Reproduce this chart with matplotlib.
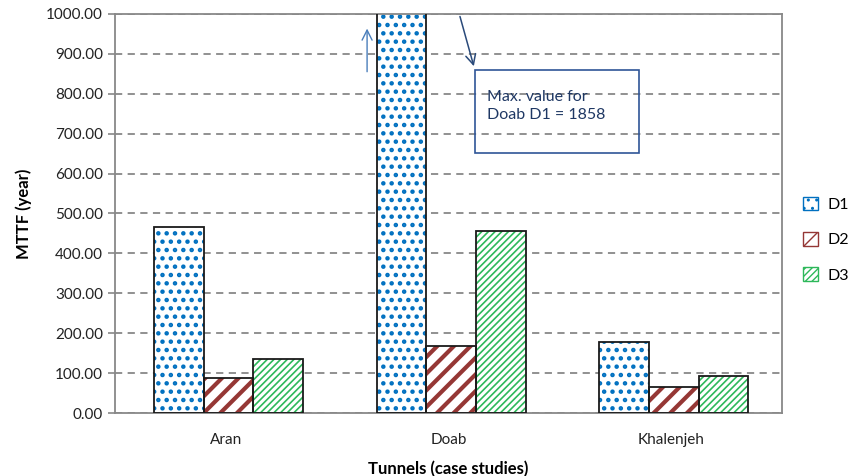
import numpy as np
import matplotlib.pyplot as plt
from matplotlib.patches import Patch

plt.rcParams['font.family'] = ['Lato', 'DejaVu Sans']

tunnels = ['Aran', 'Doab', 'Khalenjeh']
series = ['D1', 'D2', 'D3']
d1 = [466, 1858, 178]
d2 = [88, 168, 65]
d3 = [135, 456, 93]
yticks = np.arange(0, 1001, 100)

# fill pattern, pattern colour, pattern line width per series
styles = {
    'D1': ('..', '#0070C0', 2.0),
    'D2': ('//', '#953735', 3.0),
    'D3': ('/////', '#2DB85A', 1.2),
}

fig = plt.figure(figsize=(8.56, 4.76), dpi=100)
ax = fig.add_axes([0.134, 0.132, 0.780, 0.839])

x = np.arange(len(tunnels))
w = 0.223
for i, (name, vals) in enumerate(zip(series, [d1, d2, d3])):
    hatch, hc, hlw = styles[name]
    pos = x + (i - 1) * w + 0.012
    bars = ax.bar(pos, vals, w, color='white', edgecolor=hc, hatch=hatch, linewidth=0, zorder=2)
    for b in bars:
        if hasattr(b, 'set_hatch_linewidth'):
            b.set_hatch_linewidth(hlw)
    ax.bar(pos, vals, w, color='none', edgecolor='#1a1a1a', linewidth=1.3, zorder=3)

ax.set_ylim(0, 1000)
ax.set_xlim(-0.5, 2.5)
ax.set_yticks(yticks)
ax.set_yticklabels([f'{v:.2f}' for v in yticks])
ax.set_xticks(x)
ax.set_xticklabels(tunnels)
ax.tick_params(axis='both', labelsize=11, colors='#222222')
ax.tick_params(axis='y', color='#888888', length=5, width=1.2)
ax.tick_params(axis='x', length=0, pad=14)
ax.yaxis.grid(True, linestyle=(0, (4, 3)), color='#888888', linewidth=1.3, zorder=1)
ax.set_axisbelow(True)
for s in ax.spines.values():
    s.set_color('#888888')
    s.set_linewidth(1.3)

ax.set_ylabel('MTTF (year)', fontsize=12, fontweight='bold', labelpad=10)
ax.set_xlabel('Tunnels (case studies)', fontsize=12, fontweight='bold', labelpad=10)

# callout for the clipped Doab D1 bar
ax.text(0.557, 0.81, 'Max. value for\nDoab D1 = 1858', transform=ax.transAxes,
        fontsize=11.5, color='#1F3864', va='top', ha='left', linespacing=1.35, zorder=6)
box = plt.Rectangle((0.539, 0.651), 0.246, 0.209, transform=ax.transAxes,
                    fill=False, edgecolor='#2F5597', linewidth=1.2, zorder=5)
ax.add_patch(box)
ax.annotate('', xy=(0.539, 0.862), xytext=(0.516, 1.0), xycoords='axes fraction',
            arrowprops=dict(arrowstyle='->', color='#2A4A7A', lw=1.1, mutation_scale=18),
            zorder=6, annotation_clip=False)
ax.annotate('', xy=(0.378, 0.97), xytext=(0.378, 0.848), xycoords='axes fraction',
            arrowprops=dict(arrowstyle='->', color='#4A7EBB', lw=1.0, mutation_scale=18),
            zorder=6)

handles = []
for name in series:
    hatch, hc, hlw = styles[name]
    handles.append(Patch(facecolor='white', edgecolor=hc, hatch=hatch, label=name))
ax.legend(handles=handles, loc='center left', bbox_to_anchor=(1.01, 0.434),
          frameon=False, fontsize=11.5, handlelength=0.9, handleheight=0.9,
          labelspacing=1.25, handletextpad=0.6)

fig.savefig('out.png', dpi=100)
